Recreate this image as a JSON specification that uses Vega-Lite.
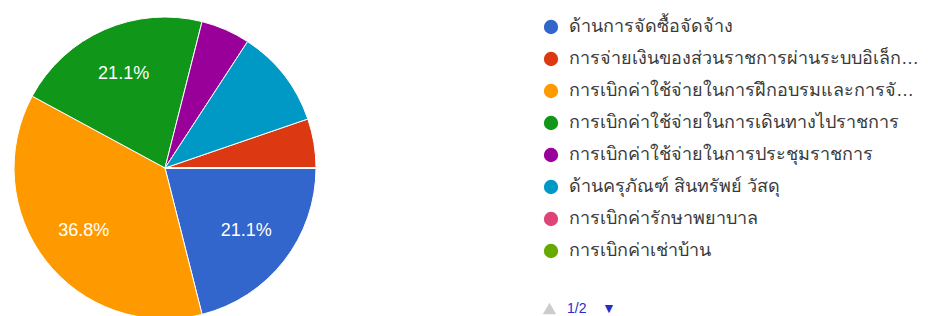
{
  "$schema": "https://vega.github.io/schema/vega-lite/v6.json",
  "width": 302,
  "height": 336,
  "autosize": {"type": "none"},
  "padding": {"left": 14, "top": 0, "right": 612, "bottom": 0},
  "background": "white",
  "config": {"view": {"stroke": null}},
  "layer": [
    {
      "data": {"values": [{"page": "1/2"}]},
      "mark": {"type": "point", "filled": true, "color": "#cccccc", "size": 1, "opacity": 1},
      "encoding": {
        "shape": {
          "field": "page",
          "type": "nominal",
          "scale": {"domain": ["1/2"], "range": ["triangle-up"]},
          "legend": {
            "orient": "none",
            "legendX": 528,
            "legendY": 301,
            "title": null,
            "symbolSize": 180,
            "symbolFillColor": "#cccccc",
            "symbolStrokeColor": "#cccccc",
            "labelExpr": "'1/2\u00a0\u00a0\u00a0\u00a0▼'",
            "labelColor": "#2a2acc",
            "labelFont": "Liberation Sans",
            "labelFontSize": 14,
            "labelOffset": 10
          }
        }
      }
    },
    {
      "data": {"name": "slices"},
      "mark": {"type": "arc", "stroke": "white", "strokeWidth": 1},
      "encoding": {
        "theta": {"field": "count", "type": "quantitative", "stack": true, "scale": {"range": [1.5708, 7.854]}},
        "order": {"field": "order", "type": "quantitative"},
        "color": {
          "field": "category",
          "type": "nominal",
          "scale": {
            "domain": [
              "ด้านการจัดซื้อจัดจ้าง",
              "การจ่ายเงินของส่วนราชการผ่านระบบอิเล็กทรอนิกส์",
              "การเบิกค่าใช้จ่ายในการฝึกอบรมและการจัดงาน",
              "การเบิกค่าใช้จ่ายในการเดินทางไปราชการ",
              "การเบิกค่าใช้จ่ายในการประชุมราชการ",
              "ด้านครุภัณฑ์ สินทรัพย์ วัสดุ",
              "การเบิกค่ารักษาพยาบาล",
              "การเบิกค่าเช่าบ้าน"
            ],
            "range": ["#3366cc", "#dc3912", "#ff9900", "#109618", "#990099", "#0099c6", "#dd4477", "#66aa00"]
          },
          "legend": {
            "orient": "none",
            "legendX": 528,
            "legendY": 18,
            "title": null,
            "symbolType": "circle",
            "symbolSize": 250,
            "labelFont": "Tahoma, Liberation Sans, sans-serif",
            "labelFontSize": 18,
            "labelColor": "#3a3a3a",
            "labelLimit": 355,
            "labelOffset": 9,
            "rowPadding": 10
          }
        }
      }
    },
    {
      "data": {"name": "slices"},
      "mark": {"type": "text", "radius": 103, "color": "white", "font": "Liberation Sans", "fontSize": 18},
      "encoding": {
        "theta": {"field": "count", "type": "quantitative", "stack": true, "scale": {"range": [1.5708, 7.854]}},
        "order": {"field": "order", "type": "quantitative"},
        "text": {"field": "label", "type": "nominal"}
      }
    }
  ],
  "datasets": {
    "slices": [
      {"category": "ด้านการจัดซื้อจัดจ้าง", "count": 4, "order": 1, "label": "21.1%"},
      {"category": "การจ่ายเงินของส่วนราชการผ่านระบบอิเล็กทรอนิกส์", "count": 1, "order": 6, "label": ""},
      {"category": "การเบิกค่าใช้จ่ายในการฝึกอบรมและการจัดงาน", "count": 7, "order": 2, "label": "36.8%"},
      {"category": "การเบิกค่าใช้จ่ายในการเดินทางไปราชการ", "count": 4, "order": 3, "label": "21.1%"},
      {"category": "การเบิกค่าใช้จ่ายในการประชุมราชการ", "count": 1, "order": 4, "label": ""},
      {"category": "ด้านครุภัณฑ์ สินทรัพย์ วัสดุ", "count": 2, "order": 5, "label": ""},
      {"category": "การเบิกค่ารักษาพยาบาล", "count": 0, "order": 7, "label": ""},
      {"category": "การเบิกค่าเช่าบ้าน", "count": 0, "order": 8, "label": ""}
    ]
  }
}
